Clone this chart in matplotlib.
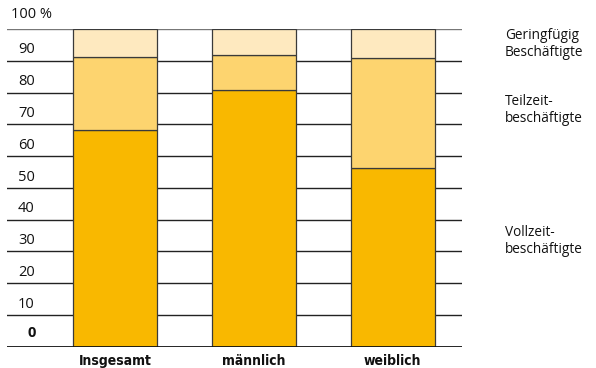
import matplotlib.pyplot as plt
import matplotlib.transforms as mtransforms
import numpy as np

# ---- Data ----
categories = ["Insgesamt", "männlich", "weiblich"]
vollzeit = [68.1, 80.7, 56.2]
teilzeit = [23.0, 11.0, 34.6]
geringfuegig = [8.9, 8.3, 9.2]
ytick_values = [10, 20, 30, 40, 50, 60, 70, 80, 90]
legend_labels = ["Geringfügig\nBeschäftigte", "Teilzeit-\nbeschäftigte", "Vollzeit-\nbeschäftigte"]

# ---- Style ----
c_voll = "#F9B800"
c_teil = "#FDD46F"
c_ger = "#FEE9BF"
W, H = 596, 368

fig = plt.figure(figsize=(W / 100, H / 100), dpi=100)
ax = fig.add_axes([7 / W, (H - 346.7) / H, 455 / W, 317.7 / H])
ax.set_xlim(-0.778, 2.50)
ax.set_ylim(0, 100)
ax.axis("off")

# grid lines
for v in ytick_values:
    ax.axhline(v, color="#222222", lw=1.0, zorder=1)
ax.axhline(100, color="#777777", lw=1.0, zorder=1)
ax.axhline(0, color="#111111", lw=2.0, zorder=4)

x = np.arange(len(categories))
bw = 0.605
edge = dict(edgecolor="#3a3a3a", linewidth=0.9, zorder=3)
ax.bar(x, vollzeit, bw, color=c_voll, **edge)
ax.bar(x, teilzeit, bw, bottom=vollzeit, color=c_teil, **edge)
bottom2 = np.array(vollzeit) + np.array(teilzeit)
ax.bar(x, geringfuegig, bw, bottom=bottom2, color=c_ger, **edge)

# y labels above gridlines
trans = mtransforms.blended_transform_factory(fig.transFigure, ax.transData)
for v in ytick_values:
    fig.text(18 / W, v + 3.4, str(v), transform=trans, ha="left", va="center",
             fontsize=10.5, family="Open Sans", color="#111111")
fig.text(27 / W, 4.3, "0", transform=trans, ha="left", va="center",
         fontsize=10.5, family="Open Sans", fontweight="bold", color="#111111")
fig.text(11 / W, 104.6, "100 %", transform=trans, ha="left", va="center",
         fontsize=10.5, family="Open Sans", color="#111111")

# category labels (condensed bold)
for xi, cat in zip(x, categories):
    ax.text(xi, -4.6, cat, ha="center", va="center", fontsize=10,
            family="DejaVu Sans", fontstretch="condensed", fontweight="bold",
            color="#111111")

# legend text on the right
legend_y = [44, 110, 241]
for lab, yp in zip(legend_labels, legend_y):
    fig.text(505 / W, 1 - yp / H, lab, ha="left", va="center", fontsize=9.8,
             family="Open Sans", color="#111111", linespacing=1.15)

fig.savefig("out.png", dpi=100)
